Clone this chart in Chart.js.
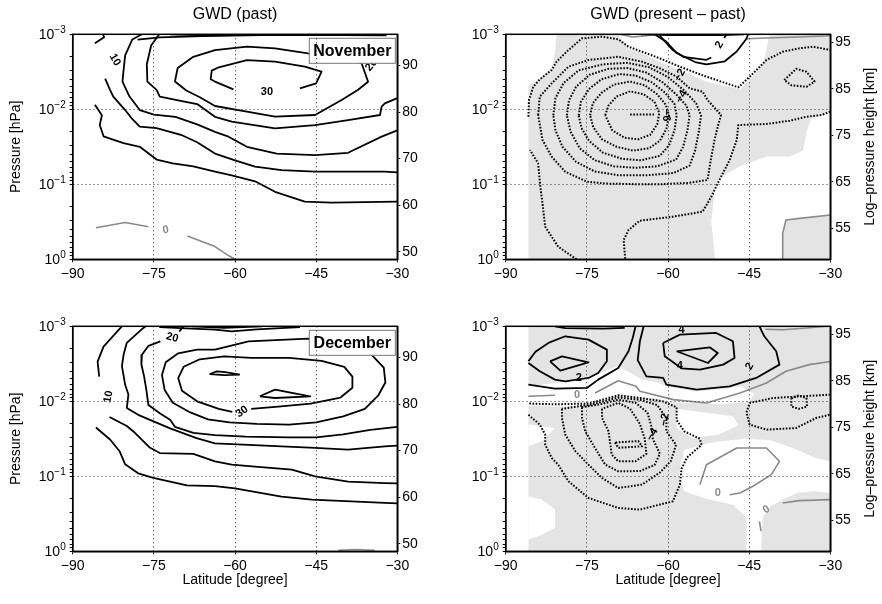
<!DOCTYPE html>
<html>
<head>
<meta charset="utf-8">
<script src="https://cdn.jsdelivr.net/npm/chart.js@4.4.0/dist/chart.umd.min.js"></script>
<style>
  body { margin: 0; background: #fff; width: 882px; height: 604px; position: relative; overflow: hidden; }
  canvas { position: absolute; }
</style>
</head>
<body>
<canvas id="novPast" width="441" height="292" style="left:0;top:0"></canvas>
<canvas id="novDiff" width="441" height="292" style="left:441px;top:0"></canvas>
<canvas id="decPast" width="441" height="312" style="left:0;top:292px"></canvas>
<canvas id="decDiff" width="441" height="312" style="left:441px;top:292px"></canvas>
<script>
// ---------------- axes ----------------
const latTicks = [-90, -75, -60, -45, -30];
const pressureDecades = [-3, -2, -1, 0];          // log10(p / hPa)
const heightTicksPast = [50, 60, 70, 80, 90];      // km
const heightTicksDiff = [55, 65, 75, 85, 95];      // km
const scaleHeight = 7;     // km, log-pressure height
const surfaceP = 1000;     // hPa

// Contours are [latitude, log10(pressure / hPa)].

// ---------------- November, past ----------------
const novPast0a = [[-85.7,-0.42],[-80.3,-0.49],[-76.0,-0.435]];
const novPast0b = [[-68.8,-0.31],[-63.7,-0.17],[-61.2,-0.05],[-60,0]];
const novPast5 = [[-85.9,-2.06],[-84.6,-1.92],[-85.0,-1.79],[-84.3,-1.64],[-83.1,-1.61],[-80.6,-1.55],[-77.6,-1.50],[-74.5,-1.33],[-71.5,-1.28],[-67.7,-1.24],[-63.7,-1.17],[-60.6,-1.12],[-56.3,-1.04],[-52.6,-0.90],[-47.1,-0.77],[-42.2,-0.755],[-30,-0.77]];
const novPast10a = [[-84.4,-3.0],[-84.2,-2.96],[-85.9,-2.88]];
const novPast10b = [[-84.0,-2.41],[-83.1,-2.26],[-82.5,-2.17],[-80.3,-1.99],[-79.1,-1.88],[-77.6,-1.77],[-74.5,-1.75],[-70,-1.66],[-67,-1.56],[-63.7,-1.41],[-60,-1.32],[-56.3,-1.235],[-51.4,-1.19],[-45.2,-1.17],[-32.3,-1.17],[-30,-1.16]];
const novPast15 = [[-77.2,-3.0],[-79,-2.93],[-80.3,-2.72],[-80.6,-2.52],[-80.8,-2.37],[-79.5,-2.17],[-77.6,-1.99],[-75,-1.93],[-71,-1.90],[-67,-1.80],[-63.7,-1.70],[-61.2,-1.635],[-57.8,-1.50],[-52.3,-1.41],[-45.2,-1.39],[-39.1,-1.42],[-32.9,-1.635],[-30,-1.72]];
const novPast20 = [[-74,-3.0],[-75.5,-2.85],[-76.3,-2.60],[-76.2,-2.37],[-74.5,-2.26],[-73.9,-2.17],[-70.5,-2.12],[-67,-2.07],[-63.7,-1.90],[-60.6,-1.835],[-52.6,-1.746],[-45.2,-1.79],[-39.1,-1.857],[-33.2,-1.924],[-32.9,-2.035],[-32.3,-2.08],[-30,-2.15]];
const novPast25 = [[-46.5,-2.746],[-52.6,-2.813],[-57.8,-2.835],[-63.7,-2.79],[-67.7,-2.70],[-70.6,-2.55],[-71.1,-2.37],[-69,-2.25],[-66.5,-2.16],[-63.7,-2.044],[-57.8,-1.968],[-52.6,-1.901],[-45.2,-1.924],[-40.3,-2.124],[-37.3,-2.257],[-35.4,-2.368],[-36.6,-2.613],[-40,-2.72],[-46.5,-2.746]];
const novPast30 = [[-60.3,-2.266],[-63.7,-2.37],[-64.5,-2.40],[-64.3,-2.515],[-63.0,-2.56],[-57.8,-2.657],[-52.6,-2.635],[-47.1,-2.568],[-44.0,-2.501],[-45.0,-2.346],[-48.0,-2.279]];
const novPastTop1 = [[-78,-2.93],[-73.9,-2.96],[-66,-2.975],[-55,-2.99],[-40,-2.99],[-32,-2.985]];
const novPastTop2 = [[-72,-3.0],[-65,-2.985],[-50,-2.995]];
const novPastLabels = [['10',-82.2,-2.66,60],['30',-54.1,-2.235,0],['20',-34.8,-2.59,-50],['0',-72.8,-0.39,-10,'#888']];

// ---------------- November, present - past ----------------
const novDiffShade = [[-85.8,0],[-85.8,-2.32],[-84.0,-2.39],[-81.5,-2.55],[-80.9,-2.75],[-80.6,-3.0],[-30,-3.0],[-30,0]];
const novDiffClear1 = [[-69.2,-3.0],[-68.6,-2.933],[-67.3,-2.813],[-64.8,-2.746],[-61.5,-2.635],[-57.8,-2.524],[-52.9,-2.368],[-46.7,-2.266],[-44.9,-2.39],[-42.4,-2.613],[-41.8,-2.79],[-41.5,-2.92],[-41.2,-3.0]];
const novDiffClear2 = [[-51.3,0],[-52,-0.5],[-51.3,-0.97],[-50.1,-1.10],[-46.7,-1.24],[-41.8,-1.37],[-37.5,-1.37],[-35,-1.45],[-34.4,-1.7],[-33.5,-1.88],[-30,-1.95],[-30,-0.59],[-35.7,-0.55],[-38.2,-0.53],[-38.8,-0.35],[-38.8,0]];
const novDiffM1a = [[-76.9,0],[-80.3,-0.168],[-82.7,-0.435],[-83.2,-0.746],[-83.6,-0.968],[-84.0,-1.279],[-85.5,-1.457]];
const novDiffM1b = [[-85.8,-1.901],[-85.7,-2.124],[-84.9,-2.301],[-83.7,-2.399],[-81.5,-2.524],[-80.6,-2.635],[-78.4,-2.79],[-75.9,-2.946],[-72.2,-2.968],[-69.2,-2.933],[-67.3,-2.835],[-64.8,-2.768],[-61.5,-2.679],[-57.8,-2.568],[-52.9,-2.435],[-47.0,-2.293],[-44.9,-2.435],[-41.8,-2.657],[-38.8,-2.768],[-35.7,-2.813],[-33.2,-2.835],[-30,-2.79]];
const novDiffM1c = [[-30,-1.968],[-31.6,-1.924],[-34.4,-1.901],[-37.5,-1.848],[-41.8,-1.804],[-47.0,-1.79],[-47.3,-1.59],[-48.6,-1.323],[-50.5,-1.057],[-52.0,-0.835],[-53.6,-0.635],[-59.1,-0.568],[-65.2,-0.515],[-67.3,-0.39],[-68.2,-0.257],[-67.9,0]];
const novDiffM2 = [[-84.0,-1.924],[-83.7,-2.168],[-81.5,-2.346],[-78.4,-2.568],[-74.7,-2.657],[-69.2,-2.70],[-64.8,-2.635],[-61.5,-2.546],[-58.4,-2.435],[-56,-2.279],[-53.6,-2.235],[-52.7,-2.124],[-50.2,-1.924],[-50.8,-1.768],[-51.4,-1.59],[-52.1,-1.323],[-52.7,-1.057],[-56,-1.02],[-61.5,-1.0],[-64.8,-1.0],[-71.6,-1.01],[-75,-1.035],[-79,-1.168],[-81.5,-1.368],[-83.2,-1.59],[-84.0,-1.924]];
const novDiffM3 = [[-81.2,-1.92],[-80.8,-2.15],[-79.3,-2.35],[-76.5,-2.52],[-72,-2.6],[-67.5,-2.62],[-63.5,-2.56],[-60,-2.43],[-57,-2.25],[-54.8,-2.08],[-53.9,-1.92],[-54.3,-1.7],[-55,-1.45],[-56,-1.25],[-59,-1.15],[-64,-1.12],[-69,-1.12],[-73.5,-1.17],[-77,-1.3],[-79.5,-1.5],[-80.8,-1.72],[-81.2,-1.92]];
const novDiffM4 = [[-78.7,-1.92],[-78.3,-2.12],[-77,-2.3],[-74.5,-2.46],[-71,-2.54],[-67.5,-2.55],[-64,-2.49],[-61,-2.36],[-58.5,-2.2],[-56.6,-2.05],[-56.0,-1.92],[-56.4,-1.72],[-57.2,-1.5],[-58.5,-1.33],[-62,-1.24],[-66,-1.22],[-70,-1.24],[-73.5,-1.32],[-76.3,-1.48],[-78,-1.7],[-78.7,-1.92]];
const novDiffM5 = [[-76.5,-1.92],[-76.1,-2.1],[-74.6,-2.27],[-72.3,-2.4],[-69,-2.47],[-66,-2.45],[-63,-2.36],[-60.5,-2.22],[-58.8,-2.07],[-58.4,-1.92],[-58.8,-1.72],[-59.8,-1.52],[-61.5,-1.38],[-65,-1.32],[-68.5,-1.34],[-72,-1.42],[-74.6,-1.58],[-76,-1.75],[-76.5,-1.92]];
const novDiffM6 = [[-74.4,-1.92],[-73.9,-2.08],[-72.3,-2.22],[-70,-2.33],[-67,-2.37],[-64.3,-2.32],[-62,-2.2],[-60.4,-2.06],[-59.8,-1.92],[-60.3,-1.74],[-61.5,-1.58],[-63.5,-1.48],[-66.5,-1.45],[-69.5,-1.5],[-72.2,-1.6],[-73.8,-1.76],[-74.4,-1.92]];
const novDiffM7 = [[-71.6,-1.92],[-71,-2.05],[-69.5,-2.17],[-67,-2.24],[-64.5,-2.2],[-62.5,-2.1],[-61.6,-1.95],[-62,-1.8],[-63.3,-1.66],[-65.5,-1.6],[-68,-1.62],[-70.3,-1.72],[-71.6,-1.92]];
const novDiffM8 = [[-67,-1.93],[-62.6,-1.93]];
const novDiffRing = [[-38.5,-2.39],[-36.3,-2.54],[-34.4,-2.50],[-32.9,-2.37],[-34.4,-2.30],[-37.2,-2.32],[-38.5,-2.39]];
const novDiffP2a = [[-61.5,-2.98],[-59.1,-2.79],[-57.2,-2.70],[-52.9,-2.66],[-52.0,-2.69]];
const novDiffP2b = [[-49.6,-2.95],[-49.2,-3.0]];
const novDiffP1 = [[-62.5,-3.0],[-60.3,-2.90],[-58.4,-2.75],[-55,-2.63],[-52.9,-2.60],[-49.5,-2.64],[-47.3,-2.77],[-45.5,-2.94],[-45.2,-3.0]];
const novDiffTop = [[-65,-3.0],[-60,-2.99],[-50,-2.99],[-46,-3.0]];
const novDiff0a = [[-69,-3.0],[-66.5,-2.965],[-64,-2.98],[-62.5,-3.0]];
const novDiff0b = [[-45.5,-2.94],[-41.8,-2.95],[-36,-2.965],[-30,-2.98]];
const novDiff0c = [[-38.8,0],[-38.8,-0.346],[-38.2,-0.524],[-35.7,-0.546],[-30,-0.59]];
const novDiffLabels = [['2',-50.5,-2.86,-60],['\u22122',-57.8,-2.457,-60],['\u22124',-57.5,-2.168,-60],['\u22126',-60.3,-1.924,90]];

// ---------------- December, past ----------------
const decPast0 = [[-40.9,-0.015],[-37.8,-0.025],[-34.2,-0.015]];
const decPast5 = [[-85.7,-1.65],[-83.1,-1.49],[-81.3,-1.33],[-80.3,-1.16],[-77.9,-1.04],[-75.1,-0.98],[-72,-0.93],[-68.9,-0.88],[-63.7,-0.87],[-60,-0.84],[-51.4,-0.73],[-45.8,-0.69],[-32.3,-0.645],[-30,-0.64]];
const decPast10a = [[-80.9,-3.0],[-81.8,-2.93],[-84.3,-2.73],[-85.4,-2.53],[-85.1,-2.33]];
const decPast10b = [[-83.2,-1.79],[-80.0,-1.67],[-78.5,-1.58],[-75.7,-1.38],[-73.9,-1.31],[-67.7,-1.30],[-63.7,-1.20],[-60.6,-1.155],[-56.3,-1.13],[-49.5,-1.09],[-45.2,-1.0],[-39.1,-0.93],[-32.3,-0.91],[-30,-0.905]];
const decPast15 = [[-76.5,-3.0],[-77.25,-2.96],[-80.0,-2.78],[-80.6,-2.62],[-80.9,-2.47],[-80.3,-2.22],[-79.7,-2.09],[-80.0,-1.91],[-77.9,-1.82],[-72.0,-1.64],[-67.1,-1.51],[-63.7,-1.44],[-57.5,-1.42],[-51.4,-1.40],[-45.2,-1.38],[-39.1,-1.355],[-32.3,-1.40],[-30,-1.41]];
const decPast20a = [[-69.5,-3.0],[-70.3,-2.93]];
const decPast20b = [[-73.8,-2.80],[-76.0,-2.74],[-77.2,-2.62],[-77.3,-2.49],[-76.8,-2.33],[-76.4,-2.16],[-76.0,-1.95],[-73.9,-1.84],[-72.0,-1.755],[-71.1,-1.66],[-67.7,-1.58],[-63.7,-1.55],[-58,-1.53],[-50,-1.52],[-45,-1.52],[-40,-1.56],[-35,-1.62],[-30,-1.66]];
const decPast25 = [[-63.7,-2.69],[-57.5,-2.80],[-46.5,-2.835],[-40,-2.80],[-35,-2.64],[-32.5,-2.45],[-32.2,-2.25],[-33.5,-2.08],[-36,-1.9],[-40,-1.80],[-45,-1.72],[-50,-1.69],[-56,-1.70],[-61,-1.72],[-65,-1.76],[-68.5,-1.86],[-71.5,-1.98],[-73,-2.15],[-73.5,-2.35],[-72.8,-2.52],[-70.5,-2.64],[-67,-2.69],[-63.7,-2.69]];
const decPast30 = [[-57,-1.90],[-52,-1.93],[-46,-1.97],[-40.5,-2.05],[-38.3,-2.18],[-38.3,-2.33],[-39.8,-2.46],[-44,-2.54],[-50,-2.58],[-57,-2.58],[-62,-2.6],[-66.5,-2.56],[-69.5,-2.46],[-70.5,-2.31],[-69.8,-2.14],[-67,-2.0],[-63,-1.9],[-60.5,-1.86]];
const decPast35a = [[-55.4,-2.067],[-52.6,-2.155],[-46.1,-2.067],[-52.6,-2.044],[-55.4,-2.067]];
const decPast35b = [[-59.1,-2.356],[-61.8,-2.39],[-63.4,-2.40],[-64.6,-2.364],[-62,-2.35],[-59.1,-2.356]];
const decPastTop1 = [[-74,-2.99],[-70,-2.975],[-63.7,-2.956],[-60.6,-2.933],[-56,-2.96],[-48,-2.99]];
const decPastTop2 = [[-68,-3.0],[-62,-2.98],[-55,-3.0]];
const decPastLabels = [['10',-83.4,-2.06,-80],['20',-71.6,-2.85,15],['30',-58.7,-1.86,-35]];

// ---------------- December, present - past ----------------
const decDiffShade = [[-85.8,0],[-85.8,-3.0],[-30,-3.0],[-30,0]];
const decDiffClearA = [[-85.8,-2.2],[-80.9,-2.244],[-74,-2.34],[-69.2,-2.47],[-64.8,-2.29],[-62,-2.25],[-60.3,-2.2],[-55,-2.13],[-49,-2.17],[-46.7,-2.2],[-44,-2.1],[-45,-2.0],[-50,-1.96],[-55,-1.98],[-58.4,-1.98],[-61,-2.02],[-65.2,-2.06],[-69.2,-2.09],[-74.7,-1.94],[-80.9,-1.93],[-85.8,-1.94]];
const decDiffClearB = [[-58.4,-1.9],[-48,-1.80],[-47,-1.68],[-50.5,-1.56],[-55.5,-1.51],[-58.4,-1.64]];
const decDiffClearC = [[-57,-1.35],[-52,-1.45],[-46,-1.5],[-41,-1.48],[-37,-1.38],[-33,-1.25],[-30,-1.2],[-30,-0.78],[-33,-0.8],[-36,-0.78],[-38.5,-0.7],[-41,-0.6],[-42.5,-0.45],[-42.8,0],[-45.5,0],[-45.5,-0.45],[-48,-0.62],[-53,-0.7],[-57,-0.8],[-58,-1.0],[-57.5,-1.2]];
const decDiffClearD = [[-85.8,-1.69],[-80.9,-1.64],[-83.3,-1.47],[-85.8,-1.40]];
const decDiffClearE = [[-85.8,-0.73],[-83.3,-0.69],[-80.9,-0.556],[-80.9,-0.311],[-83.3,-0.222],[-85.8,-0.156]];
const decDiffP6L = [[-81.8,-2.533],[-79.6,-2.60],[-74.7,-2.52],[-79.9,-2.41],[-81.8,-2.533]];
const decDiffP4L = [[-85.8,-2.533],[-84.5,-2.66],[-82.1,-2.778],[-79,-2.867],[-74.7,-2.822],[-71.3,-2.689],[-71.3,-2.533],[-72.9,-2.378],[-74.7,-2.311],[-79,-2.267],[-80.9,-2.289],[-83.7,-2.40],[-85.8,-2.511]];
const decDiffP6R = [[-58.4,-2.667],[-52.3,-2.72],[-50.8,-2.644],[-52.6,-2.511],[-58.4,-2.667]];
const decDiffP4R = [[-60.9,-2.778],[-57.8,-2.889],[-51.1,-2.911],[-48.0,-2.8],[-47.7,-2.578],[-49.8,-2.489],[-54.1,-2.422],[-57.5,-2.44],[-60.6,-2.6],[-60.9,-2.778]];
const decDiffP2L = [[-85.8,-2.222],[-80.9,-2.169],[-75,-2.178],[-72.9,-2.289],[-69.2,-2.444],[-67.3,-2.667],[-66.5,-2.85],[-66,-3.0]];
const decDiffP2R = [[-64.5,-3.0],[-65.2,-2.8],[-65.6,-2.55],[-64,-2.333],[-60.9,-2.311],[-60.3,-2.222],[-54.7,-2.155],[-48.6,-2.2],[-43.7,-2.311],[-39.4,-2.489],[-40,-2.667],[-42.2,-2.867],[-43.1,-3.0]];
const decDiffTop = [[-80.9,-3.0],[-79,-2.975],[-72,-2.97],[-68,-2.98]];
const decDiff0a = [[-85.8,-2.067],[-80.9,-2.08]];
const decDiff0b = [[-73.5,-2.111],[-69.2,-2.275],[-65.9,-2.2],[-65.2,-2.133],[-59,-2.022],[-52.9,-1.978],[-46.7,-2.111],[-41.8,-2.244],[-38.2,-2.4],[-33.9,-2.489],[-30,-2.53]];
const decDiff0c = [[-42,-2.96],[-38.8,-2.955],[-34.4,-2.978],[-30.5,-3.0]];
const decDiff0d = [[-54.1,-0.889],[-52.9,-1.155],[-47.3,-1.378],[-41.8,-1.378],[-39.4,-1.2],[-40.9,-1.022],[-44.3,-0.867],[-46.7,-0.778],[-48.6,-0.755]];
const decDiff0e = [[-43.1,-0.4],[-42.8,-0.27]];
const decDiff0f = [[-38.8,-0.644],[-35.7,-0.676],[-30,-0.689]];
const decDiffM1 = [[-85.8,-1.82],[-83.7,-1.69],[-82.7,-1.556],[-82.7,-1.422],[-81.5,-1.244],[-80.3,-1.155],[-78.4,-0.933],[-74.7,-0.711],[-69.2,-0.578],[-65.2,-0.556],[-59.1,-0.667],[-57.8,-0.889],[-57.5,-1.1],[-56.5,-1.25],[-53.8,-1.42],[-54.1,-1.50],[-57,-1.6],[-58.4,-1.75],[-58.4,-1.92],[-61,-2.0],[-65.2,-2.044],[-69.2,-2.08],[-74.7,-1.97],[-80.9,-1.96],[-85.8,-1.97]];
const decDiffM2 = [[-79.6,-1.90],[-79.6,-1.778],[-79,-1.556],[-77.1,-1.333],[-74.7,-1.155],[-72.2,-0.978],[-69.2,-0.844],[-64.8,-0.889],[-61.5,-1.05],[-59.5,-1.2],[-58.5,-1.42],[-60.3,-1.6],[-60.3,-1.778],[-62,-1.95],[-65.2,-2.02],[-69.2,-2.05],[-74,-1.96],[-79.6,-1.90]];
const decDiffM3 = [[-75.9,-1.92],[-75.9,-1.778],[-75.3,-1.6],[-73.5,-1.378],[-71.6,-1.155],[-69.2,-1.067],[-65.2,-1.07],[-62.5,-1.15],[-61.5,-1.3],[-62.8,-1.5],[-63,-1.65],[-63.8,-1.85],[-66,-1.98],[-69.2,-2.02],[-72.5,-1.96],[-75.9,-1.92]];
const decDiffM4 = [[-72.2,-1.9],[-72.2,-1.778],[-71,-1.6],[-70.4,-1.289],[-69.2,-1.2],[-66,-1.2],[-64,-1.3],[-64.3,-1.5],[-65.2,-1.7],[-67,-1.9],[-69.2,-1.98],[-72.2,-1.9]];
const decDiffM5 = [[-69.8,-1.45],[-69.2,-1.38],[-64.8,-1.40],[-65.5,-1.47],[-69.8,-1.45]];
const decDiffMR = [[-30,-2.089],[-40.6,-2.044],[-44.9,-1.978],[-45.5,-1.85],[-44.9,-1.689],[-41.8,-1.622],[-36.3,-1.644],[-32.6,-1.778],[-30,-1.822]];
const decDiffMS = [[-37.2,-2.04],[-35.8,-2.08],[-34.4,-2.04],[-34.3,-1.93],[-35.8,-1.90],[-37.2,-1.93],[-37.2,-2.04]];
const decDiffLabels = [['2',-76.5,-2.311,0],['0',-76.8,-2.08,0,'#888'],['4',-57.8,-2.467,0],['2',-44.9,-2.467,-60],['4',-57.5,-2.956,0],['0',-50.8,-0.778,0,'#888'],['0',-41.8,-0.556,-30,'#888'],['\u22122',-60.6,-1.755,-80],['\u22124',-62.9,-1.555,-60]];

// ---------------- drawing ----------------
const fontFamily = '"Liberation Sans", Arial, Helvetica, sans-serif';
Chart.defaults.font.family = fontFamily;
Chart.defaults.color = '#000';

const styles = {
  k: {color: '#000', width: 1.8, dash: []},
  g: {color: '#8a8a8a', width: 1.6, dash: []},
  d: {color: '#000', width: 2, dash: [1.6, 1.6]}
};
const shadeGray = '#e4e4e4';

function toPoints(arr) {
  return arr.map(d => ({x: d[0], y: Math.pow(10, d[1])}));
}
function contour(arr, kind) {
  const s = styles[kind];
  return {data: toPoints(arr), borderColor: s.color, borderWidth: s.width, borderDash: s.dash,
          borderJoinStyle: 'round', pointRadius: 0, fill: false, tension: 0, order: 1};
}
function area(arr, color, order) {
  return {data: toPoints(arr), borderColor: 'rgba(0,0,0,0)', borderWidth: 0, backgroundColor: color,
          fill: 'shape', pointRadius: 0, tension: 0, order: order};
}

const logTickValues = [];
pressureDecades.forEach(e => {
  if (e === 0) { logTickValues.push(1); return; }
  for (let m = 1; m <= 9; m++) logTickValues.push(Number((m * Math.pow(10, e)).toPrecision(6)));
});
function decadeOf(v) {
  const l = Math.log10(v);
  return Math.abs(l - Math.round(l)) < 1e-6 ? Math.round(l) : null;
}
function heightOf(p) { return scaleHeight * Math.log(surfaceP / p); }

function panelPlugin(p) {
  return {
    id: 'panelText',
    afterDatasetsDraw(chart) {
      const {ctx, chartArea: a, scales: {x, y}} = chart;
      ctx.save();
      ctx.beginPath(); ctx.rect(a.left, a.top, a.right - a.left, a.bottom - a.top); ctx.clip();
      p.labels.forEach(l => {
        ctx.save();
        ctx.translate(x.getPixelForValue(l[1]), y.getPixelForValue(Math.pow(10, l[2])));
        ctx.rotate(l[3] * Math.PI / 180);
        ctx.font = 'bold 11px ' + fontFamily;
        ctx.fillStyle = l[4] || '#000';
        ctx.textAlign = 'center'; ctx.textBaseline = 'middle';
        ctx.fillText(l[0], 0, 0);
        ctx.restore();
      });
      if (p.month) {
        ctx.fillStyle = '#fff'; ctx.strokeStyle = '#777'; ctx.lineWidth = 1;
        ctx.fillRect(a.right - 88, a.top + 4, 86, 25);
        ctx.strokeRect(a.right - 88, a.top + 4, 86, 25);
        ctx.fillStyle = '#000';
        ctx.font = 'bold 16px ' + fontFamily;
        ctx.textAlign = 'center'; ctx.textBaseline = 'middle';
        ctx.fillText(p.month, a.right - 45, a.top + 17);
      }
      ctx.restore();
    },
    afterDraw(chart) {
      const {ctx, chartArea: a, scales: {y}} = chart;
      ctx.save();
      ctx.strokeStyle = '#000'; ctx.lineWidth = 1.5;
      ctx.strokeRect(a.left, a.top, a.right - a.left, a.bottom - a.top);
      // pressure decade labels: "10" with a raised exponent
      ctx.fillStyle = '#000'; ctx.textBaseline = 'alphabetic'; ctx.textAlign = 'left';
      pressureDecades.forEach(e => {
        const py = y.getPixelForValue(Math.pow(10, e));
        const exp = e < 0 ? '\u2212' + Math.abs(e) : String(e);
        ctx.font = '10px ' + fontFamily;
        const we = ctx.measureText(exp).width;
        ctx.font = '14px ' + fontFamily;
        const wb = ctx.measureText('10').width;
        const xr = a.left - 7;
        ctx.fillText('10', xr - we - wb, py + 5);
        ctx.font = '10px ' + fontFamily;
        ctx.fillText(exp, xr - we, py - 1);
      });
      if (p.rightTitle) {
        ctx.translate(chart.width - 12, (a.top + a.bottom) / 2);
        ctx.rotate(-Math.PI / 2);
        ctx.font = '14px ' + fontFamily;
        ctx.textAlign = 'center'; ctx.textBaseline = 'middle';
        ctx.fillText(p.rightTitle, 0, 0);
      }
      ctx.restore();
    }
  };
}

function makeChart(id, p) {
  const datasets = [];
  (p.areas || []).forEach(s => datasets.push(area(s[0], s[1], s[2])));
  p.lines.forEach(l => datasets.push(contour(l[0], l[1])));
  return new Chart(document.getElementById(id), {
    type: 'line',
    data: {datasets: datasets},
    options: {
      responsive: false, animation: false, events: [],
      layout: {padding: {top: p.title ? 0 : 34.3, left: 0, right: 0, bottom: 0}},
      plugins: {
        legend: {display: false}, tooltip: {enabled: false},
        title: p.title ? {display: true, text: p.title, fullSize: false, color: '#000',
                          font: {size: 16, weight: 'normal'}, padding: {top: 5.4, bottom: 9.7}}
                       : {display: false}
      },
      scales: {
        x: {
          type: 'linear', min: -90, max: -30,
          afterBuildTicks: s => { s.ticks = latTicks.map(v => ({value: v})); },
          afterFit: s => { s.height = p.xh; },
          ticks: {autoSkip: false, maxRotation: 0, padding: 3, color: '#000', font: {size: 14},
                  callback: v => (v < 0 ? '\u2212' + Math.abs(v) : String(v))},
          grid: {color: c => (c.tick && c.tick.value > -90 && c.tick.value < -30) ? '#333' : 'rgba(0,0,0,0)',
                 lineWidth: 1, tickColor: '#000', tickLength: 3, z: 1},
          border: {color: '#000', width: 1.5, dash: [1, 3], z: 1},
          title: {display: !!p.xTitle, text: p.xTitle || '', color: '#000', font: {size: 14},
                  padding: {top: 0, bottom: 15.6}}
        },
        y: {
          type: 'logarithmic', position: 'left', reverse: true, min: 1e-3, max: 1,
          afterBuildTicks: s => { s.ticks = logTickValues.map(v => ({value: v})); },
          afterFit: s => { s.width = p.yw; },
          ticks: {autoSkip: false, padding: 5, font: {size: 14}, callback: () => ''},
          grid: {color: c => { if (!c.tick) return 'rgba(0,0,0,0)'; const d = decadeOf(c.tick.value);
                               return (d === -2 || d === -1) ? '#333' : 'rgba(0,0,0,0)'; },
                 lineWidth: 1, tickColor: '#000', tickLength: 3, z: 1},
          border: {color: '#000', width: 1.5, dash: [1, 3], z: 1},
          title: {display: !!p.yTitle, text: p.yTitle || '', color: '#000', font: {size: 14},
                  padding: {top: 7.6, bottom: 0}}
        },
        z: {
          type: 'linear', position: 'right', min: heightOf(1), max: heightOf(1e-3),
          afterBuildTicks: s => { s.ticks = p.heights.map(v => ({value: v})); },
          afterFit: s => { s.width = p.zw; },
          ticks: {padding: 2, color: '#000', font: {size: 14}},
          grid: {drawOnChartArea: false, tickColor: '#000', tickLength: 3},
          border: {color: '#000', width: 1.5}
        }
      }
    },
    plugins: [panelPlugin(p)]
  });
}

makeChart('novPast', {
  title: 'GWD (past)', yTitle: 'Pressure [hPa]', month: 'November', heights: heightTicksPast,
  xh: 32.7, yw: 72.7, zw: 43.7, labels: novPastLabels,
  lines: [[novPast0a,'g'],[novPast0b,'g'],[novPast5,'k'],[novPast10a,'k'],[novPast10b,'k'],[novPast15,'k'],
          [novPast20,'k'],[novPast25,'k'],[novPast30,'k'],[novPastTop1,'k'],[novPastTop2,'k']]
});

makeChart('novDiff', {
  title: 'GWD (present \u2013 past)', rightTitle: 'Log\u2013pressure height [km]', heights: heightTicksDiff,
  xh: 32.7, yw: 64.7, zw: 51.7, labels: novDiffLabels,
  areas: [[novDiffShade, shadeGray, 20], [novDiffClear1, '#fff', 19], [novDiffClear2, '#fff', 19]],
  lines: [[novDiffM1a,'d'],[novDiffM1b,'d'],[novDiffM1c,'d'],[novDiffM2,'d'],[novDiffM3,'d'],[novDiffM4,'d'],
          [novDiffM5,'d'],[novDiffM6,'d'],[novDiffM7,'d'],[novDiffM8,'d'],[novDiffRing,'d'],
          [novDiffP2a,'k'],[novDiffP2b,'k'],[novDiffP1,'k'],[novDiffTop,'k'],
          [novDiff0a,'g'],[novDiff0b,'g'],[novDiff0c,'g']]
});

makeChart('decPast', {
  yTitle: 'Pressure [hPa]', xTitle: 'Latitude [degree]', month: 'December', heights: heightTicksPast,
  xh: 52.7, yw: 72.7, zw: 43.7, labels: decPastLabels,
  lines: [[decPast0,'g'],[decPast5,'k'],[decPast10a,'k'],[decPast10b,'k'],[decPast15,'k'],[decPast20a,'k'],
          [decPast20b,'k'],[decPast25,'k'],[decPast30,'k'],[decPast35a,'k'],[decPast35b,'k'],
          [decPastTop1,'k'],[decPastTop2,'k']]
});

makeChart('decDiff', {
  xTitle: 'Latitude [degree]', rightTitle: 'Log\u2013pressure height [km]', heights: heightTicksDiff,
  xh: 52.7, yw: 64.7, zw: 51.7, labels: decDiffLabels,
  areas: [[decDiffShade, shadeGray, 20], [decDiffClearA, '#fff', 19], [decDiffClearB, '#fff', 19],
          [decDiffClearC, '#fff', 19], [decDiffClearD, '#fff', 19], [decDiffClearE, '#fff', 19]],
  lines: [[decDiffP6L,'k'],[decDiffP4L,'k'],[decDiffP6R,'k'],[decDiffP4R,'k'],[decDiffP2L,'k'],[decDiffP2R,'k'],
          [decDiffTop,'k'],[decDiff0a,'g'],[decDiff0b,'g'],[decDiff0c,'g'],[decDiff0d,'g'],[decDiff0e,'g'],
          [decDiff0f,'g'],[decDiffM1,'d'],[decDiffM2,'d'],[decDiffM3,'d'],[decDiffM4,'d'],[decDiffM5,'d'],
          [decDiffMR,'d'],[decDiffMS,'d']]
});
</script>
</body>
</html>
